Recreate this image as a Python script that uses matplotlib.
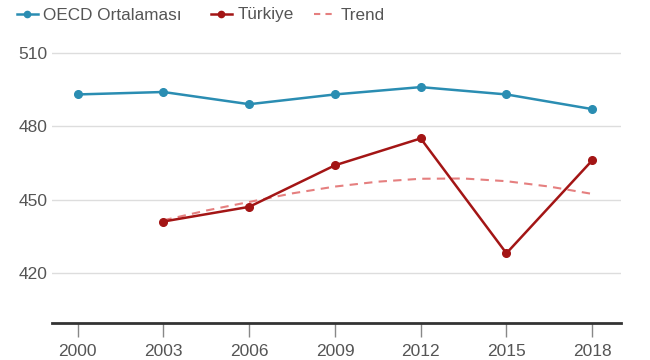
import matplotlib
matplotlib.use("Agg")
import matplotlib.pyplot as plt
from matplotlib.lines import Line2D

plt.rcParams['font.family'] = ['Liberation Sans', 'DejaVu Sans']

years = [2000, 2003, 2006, 2009, 2012, 2015, 2018]
oecd = [493, 494, 489, 493, 496, 493, 487]
turkey_years = [2003, 2006, 2009, 2012, 2015, 2018]
turkey = [441, 447, 464, 475, 428, 466]
trend_years = [2003, 2004.5, 2006, 2007.5, 2009, 2010.5, 2012, 2013.5, 2015, 2016.5, 2018]
trend = [441.5, 445.5, 449.0, 452.5, 455.3, 457.3, 458.5, 458.6, 457.5, 455.3, 452.3]
yticks = [420, 450, 480, 510]
labels = ['OECD Ortalaması', 'Türkiye', 'Trend']

c_oecd = '#2a8db2'
c_tr = '#a31515'
c_trend = '#e57f7f'
c_text = '#555555'

fig = plt.figure(figsize=(6.5, 3.6), dpi=100)
ax = fig.add_axes([0.08, 0.103, 0.875, 0.784])

ax.plot(years, oecd, color=c_oecd, lw=1.8, marker='o', ms=5.5, zorder=3)
ax.plot(turkey_years, turkey, color=c_tr, lw=1.8, marker='o', ms=5.5, zorder=3)
ax.plot(trend_years, trend, color=c_trend, lw=1.5, ls=(0, (4, 3)), zorder=2)

ax.set_xlim(1999.1, 2019.0)
ax.set_ylim(399.5, 515)
ax.set_yticks(yticks)
ax.set_xticks(years)
ax.grid(axis='y', color='#dddddd', lw=1)
ax.set_axisbelow(True)
for s in ['top', 'right', 'left']:
    ax.spines[s].set_visible(False)
ax.spines['bottom'].set_color('#333333')
ax.spines['bottom'].set_linewidth(2)
ax.tick_params(axis='y', length=0, pad=3, labelsize=12.5, labelcolor=c_text)
ax.tick_params(axis='x', length=10, width=1, color='#888888', pad=5, labelsize=12.5, labelcolor=c_text)

handles = [
    Line2D([], [], color=c_oecd, lw=1.8, marker='o', ms=4.5),
    Line2D([], [], color=c_tr, lw=1.8, marker='o', ms=4.5),
    Line2D([], [], color=c_trend, lw=1.5, ls=(0, (3, 2.5))),
]
anchors_px = [17, 211, 314]
for h, lab, xp in zip(handles, labels, anchors_px):
    leg = fig.legend([h], [lab], loc='center left', bbox_to_anchor=(xp / 650, 1 - 15 / 360),
                     frameon=False, fontsize=12.3, borderpad=0, borderaxespad=0,
                     handlelength=1.2, handletextpad=0.35)
    for t in leg.get_texts():
        t.set_color(c_text)

fig.savefig('out.png', dpi=100)
